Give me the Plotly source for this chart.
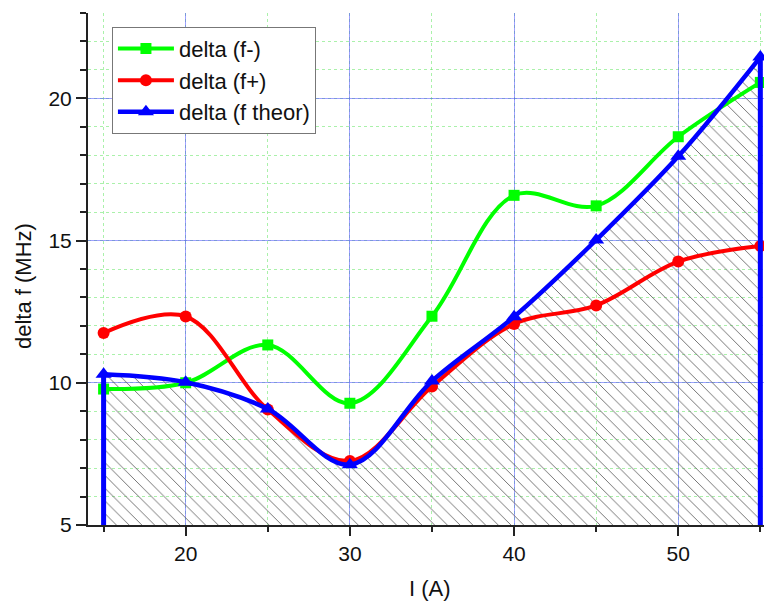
import plotly.graph_objects as go

# Data
current_A = [15, 20, 25, 30, 35, 40, 45, 50, 55]
delta_f_minus = [9.78, 10.0, 11.33, 9.28, 12.34, 16.59, 16.22, 18.65, 20.56]
delta_f_plus = [11.75, 12.33, 9.06, 7.25, 9.87, 12.07, 12.72, 14.26, 14.81]
delta_f_theor = [10.30, 10.02, 9.08, 7.12, 10.06, 12.32, 15.02, 17.96, 21.45]

x_tick_vals = [20, 30, 40, 50]
y_tick_vals = [5, 10, 15, 20]
x_range = [14.05, 55.71]
y_range = [5, 23]

GREEN = "#00FF00"
RED = "#FF0000"
BLUE = "#0000FF"
FONT = "Liberation Sans, Arial, sans-serif"

fig = go.Figure()

# hatched area under the theoretical curve
fig.add_trace(go.Scatter(
    x=current_A, y=delta_f_theor, mode="lines",
    line=dict(width=0, shape="spline", color=BLUE),
    fill="tozeroy", fillcolor="rgba(0,0,0,0)",
    fillpattern=dict(shape="\\", fgcolor="#666666", bgcolor="rgba(0,0,0,0)",
                     size=9, solidity=0.1, fillmode="replace"),
    showlegend=False, hoverinfo="skip"))

fig.add_trace(go.Scatter(
    x=current_A, y=delta_f_minus, mode="lines+markers", name="delta (f-)",
    line=dict(color=GREEN, width=4, shape="spline"),
    marker=dict(symbol="square", size=11, color=GREEN)))

fig.add_trace(go.Scatter(
    x=current_A, y=delta_f_plus, mode="lines+markers", name="delta (f+)",
    line=dict(color=RED, width=4, shape="spline"),
    marker=dict(symbol="circle", size=12, color=RED)))

# vertical edges of the hatched region
for xi, yi in [(current_A[0], delta_f_theor[0]), (current_A[-1], delta_f_theor[-1])]:
    fig.add_trace(go.Scatter(
        x=[xi, xi], y=[y_range[0], yi], mode="lines",
        line=dict(color=BLUE, width=5), showlegend=False, hoverinfo="skip"))

fig.add_trace(go.Scatter(
    x=current_A, y=delta_f_theor, mode="lines+markers", name="delta (f theor)",
    line=dict(color=BLUE, width=4.5, shape="spline"),
    marker=dict(symbol="triangle-up", size=14, color=BLUE)))

# page has an 8px body margin, so the figure is 8px smaller than the window
fig.update_layout(
    width=764, height=593,
    margin=dict(l=80, r=0, t=5, b=76, autoexpand=False),
    paper_bgcolor="white", plot_bgcolor="white",
    font=dict(family=FONT, color="#111111", size=21),
    showlegend=True,
    legend=dict(
        x=0.035, y=0.973, xanchor="left", yanchor="top",
        bgcolor="white", bordercolor="#777777", borderwidth=1,
        font=dict(family=FONT, size=22, color="#111111"),
        tracegroupgap=0, itemwidth=56,
    ),
    xaxis=dict(
        range=x_range, tickvals=x_tick_vals, ticks="outside", ticklen=9, tickwidth=2,
        tickcolor="#222222", showline=True, linecolor="#222222", linewidth=2,
        showgrid=True, gridcolor="rgba(80,80,255,0.55)", gridwidth=1,
        zeroline=False, tickfont=dict(size=21), automargin=False,
        minor=dict(dtick=5, tick0=0, ticks="outside", ticklen=5, tickwidth=2,
                   tickcolor="#222222", showgrid=True,
                   gridcolor="rgba(100,230,100,0.55)", griddash="dot", gridwidth=1),
        title=dict(text=""),
    ),
    yaxis=dict(
        range=y_range, tickvals=y_tick_vals, ticks="outside", ticklen=10, tickwidth=2,
        tickcolor="#222222", showline=True, linecolor="#222222", linewidth=2,
        showgrid=True, gridcolor="rgba(80,80,255,0.55)", gridwidth=1,
        zeroline=False, tickfont=dict(size=21), automargin=False,
        minor=dict(dtick=1, tick0=0, ticks="outside", ticklen=6, tickwidth=2,
                   tickcolor="#222222", showgrid=True,
                   gridcolor="rgba(100,230,100,0.55)", griddash="dot", gridwidth=1),
        title=dict(text=""),
    ),
    annotations=[
        dict(text="delta f (MHz)", textangle=-90, xref="paper", yref="paper",
             x=(23 - 88) / 684, y=(525 - 286) / 512, xanchor="center", yanchor="middle",
             showarrow=False, font=dict(family=FONT, size=22, color="#111111")),
        dict(text="I (A)", xref="paper", yref="paper",
             x=0.5, y=(525 - 574) / 512, xanchor="center", yanchor="top",
             showarrow=False, font=dict(family=FONT, size=22, color="#111111")),
    ],
)

fig.write_html("out.html")
